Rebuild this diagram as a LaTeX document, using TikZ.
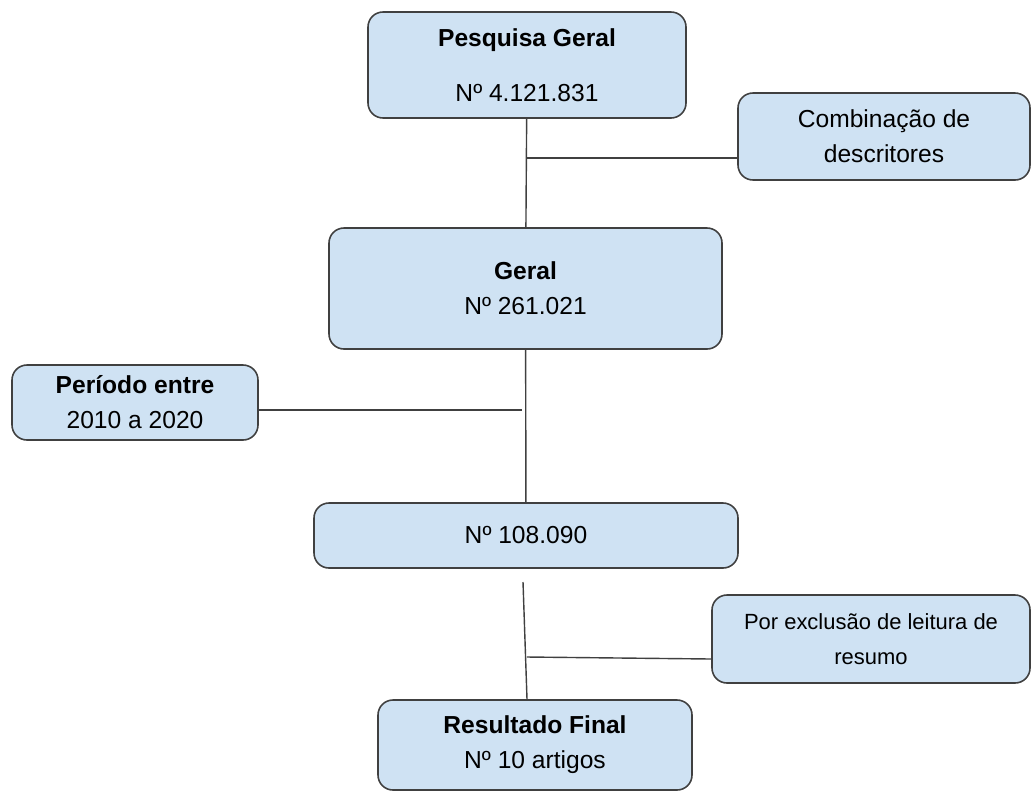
\documentclass[tikz,border=0pt]{standalone}
\usepackage{fontspec}
\setmainfont{Liberation Sans}
\usetikzlibrary{positioning}
\definecolor{caixafundo}{HTML}{CFE2F3}
\definecolor{caixalinha}{HTML}{404040}

\begin{document}
\begin{tikzpicture}[
    caixa/.style={draw=caixalinha, fill=caixafundo, line width=0.9pt, rounded corners=0.3cm,
        align=center, inner sep=0pt, font=\fontsize{14}{20}\selectfont},
    ligacao/.style={draw=caixalinha, line width=0.8pt}
]
    \useasboundingbox (0,0) rectangle (20.68,-15.84);
    %% caixas principais
    \node[caixa, minimum width=6.36cm, minimum height=2.12cm] (pesq) at (10.54,-1.30)
        {\textbf{Pesquisa Geral}\\[11pt]Nº 4.121.831};
    \node[caixa, minimum width=7.86cm, minimum height=2.42cm] (geral) at (10.51,-5.77)
        {\textbf{Geral}\\Nº 261.021};
    \node[caixa, minimum width=8.48cm, minimum height=1.30cm] (n108) at (10.52,-10.71)
        {Nº 108.090};
    \node[caixa, minimum width=6.28cm, minimum height=1.80cm] (final) at (10.70,-14.90)
        {\textbf{Resultado Final}\\Nº 10 artigos};
    %% caixas laterais
    \node[caixa, minimum width=5.84cm, minimum height=1.74cm] (comb) at (17.68,-2.73)
        {Combinação de\\descritores};
    \node[caixa, minimum width=4.92cm, minimum height=1.50cm] (periodo) at (2.70,-8.05)
        {\textbf{Período entre}\\2010 a 2020};
    \node[caixa, minimum width=6.36cm, minimum height=1.76cm, font=\fontsize{12.5}{20}\selectfont] (excl) at (17.42,-12.78)
        {Por exclusão de leitura de\\resumo};
    % pontos nas linhas
    \coordinate (r1) at (10.54,-3.16);
    \coordinate (r2) at (10.44,-8.20);
    \coordinate (r3) at (10.46,-11.64);
    \coordinate (r4) at (10.54,-13.14);
    % ligacoes
    \draw[ligacao] (pesq) -- (geral);
    \draw[ligacao] (r1) -- (r1 -| comb.west);
    \draw[ligacao] (geral) -- (n108);
    \draw[ligacao] (periodo.east |- r2) -- (r2);
    \draw[ligacao] (r3) -- (r4 |- final.north);
    \draw[ligacao] (r4) -- ([yshift=-0.4cm]excl.west);
\end{tikzpicture}
\end{document}
